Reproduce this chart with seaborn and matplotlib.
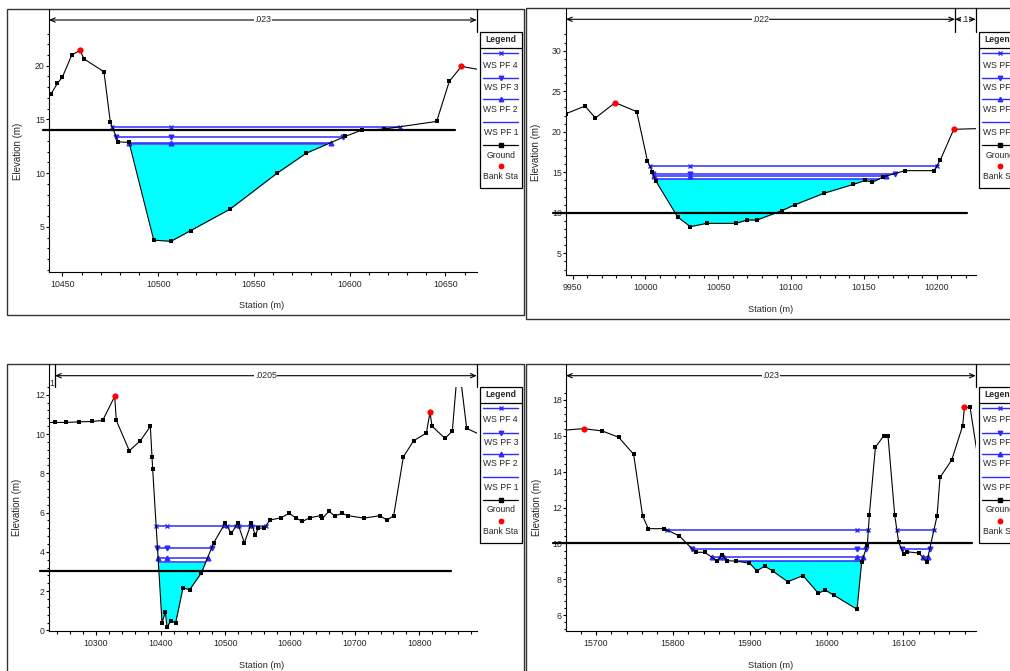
import numpy as np
import pandas as pd
import matplotlib
matplotlib.use("Agg")
import matplotlib.pyplot as plt
import seaborn as sns
from matplotlib.ticker import MultipleLocator, StrMethodFormatter
from matplotlib.patches import Rectangle, FancyArrowPatch
from matplotlib import font_manager

# ---------------- DATA ----------------
# Cross section 1 (top-left)
g1_sta = [10443.9, 10447.4, 10450.0, 10454.9, 10459.1, 10461.4, 10471.7, 10475.0, 10479.1, 10484.8,
          10497.7, 10506.7, 10517.0, 10537.5, 10562.1, 10577.3, 10597.6, 10606.2, 10617.7, 10645.4,
          10652.0, 10658.3, 10675.0]
g1_elev = [17.33, 18.36, 18.95, 21.00, 21.43, 20.62, 19.44, 14.78, 12.92, 12.86,
           3.76, 3.66, 4.66, 6.65, 10.00, 11.86, 13.42, 14.00, 14.10, 14.82,
           18.55, 19.94, 19.40]
bank1_sta = [10459.1, 10658.3]
bank1_elev = [21.43, 19.94]
ws1 = [14.32, 13.33, 12.84, 12.67]          # WS PF 4, 3, 2, 1
level1 = 14.0
level1_sta = [10440.0, 10654.9]
n1_sta = [10443.0, 10666.3]
n1_lab = [".023"]

# Cross section 2 (top-right)
g2_sta = [9945.4, 9958.5, 9965.6, 9979.1, 9994.0, 10001.3, 10004.7, 10007.0, 10022.1, 10030.8,
          10042.0, 10062.0, 10069.7, 10076.6, 10093.5, 10102.7, 10122.4, 10142.8, 10151.0, 10155.8,
          10163.1, 10178.3, 10198.2, 10202.5, 10211.7, 10235.0]
g2_elev = [22.23, 23.17, 21.69, 23.59, 22.48, 16.43, 15.07, 13.96, 9.48, 8.29,
           8.70, 8.70, 9.11, 9.11, 10.26, 11.00, 12.40, 13.51, 14.00, 13.76,
           14.42, 15.20, 15.20, 16.51, 20.30, 20.42]
bank2_sta = [9979.1, 10211.7]
bank2_elev = [23.59, 20.30]
ws2 = [15.73, 14.83, 14.54, 14.21]
level2 = 9.93
level2_sta = [9936.7, 10220.6]
n2_sta = [9945.4, 10212.6, 10226.8]
n2_lab = [".022", ".1"]

# Cross section 3 (bottom-left)
g3_sta = [10220.0, 10236.6, 10253.6, 10273.7, 10293.3, 10310.3, 10328.9, 10331.4, 10351.5, 10368.6,
          10384.0, 10386.6, 10387.6, 10402.1, 10407.2, 10409.8, 10415.5, 10423.2, 10434.5, 10444.8,
          10462.9, 10482.0, 10499.5, 10509.3, 10519.1, 10529.4, 10540.2, 10546.4, 10551.0, 10560.3,
          10569.0, 10585.6, 10598.9, 10609.3, 10619.1, 10630.4, 10647.4, 10650.0, 10660.3, 10669.1,
          10679.9, 10690.2, 10713.9, 10739.2, 10750.0, 10760.3, 10775.3, 10791.2, 10810.8, 10816.5,
          10819.6, 10839.7, 10851.0, 10860.3, 10873.2, 10895.0]
g3_elev = [10.59, 10.59, 10.59, 10.62, 10.64, 10.69, 11.92, 10.69, 9.15, 9.66,
           10.39, 8.84, 8.23, 0.39, 0.95, 0.15, 0.49, 0.39, 2.17, 2.07,
           2.93, 4.46, 5.46, 4.94, 5.46, 4.46, 5.46, 4.85, 5.21, 5.21,
           5.62, 5.73, 5.96, 5.72, 5.55, 5.73, 5.85, 5.70, 6.07, 5.82,
           5.96, 5.84, 5.72, 5.84, 5.62, 5.84, 8.84, 9.66, 10.05, 11.10,
           10.40, 9.78, 10.15, 13.80, 10.29, 9.95]
bank3_sta = [10328.9, 10816.5]
bank3_elev = [11.92, 11.10]
ws3 = [5.33, 4.21, 3.71, 3.46]
level3 = 3.05
level3_sta = [10213.4, 10848.5]
n3_sta = [10236.6, 10888.7]
n3_lab = [".0205"]

# Cross section 4 (bottom-right)
g4_sta = [15655.0, 15683.9, 15708.2, 15729.5, 15749.0, 15760.7, 15768.1, 15788.9, 15808.5, 15829.7,
          15841.4, 15857.5, 15864.0, 15870.9, 15882.2, 15899.6, 15909.5, 15919.5, 15929.9, 15949.5,
          15969.4, 15989.4, 15998.0, 16009.8, 16039.7, 16045.8, 16053.1, 16055.7, 16063.6, 16074.4,
          16080.0, 16088.7, 16093.9, 16100.4, 16104.3, 16120.4, 16130.4, 16143.8, 16147.7, 16162.9,
          16177.2, 16179.4, 16186.8, 16198.0]
g4_elev = [16.30, 16.40, 16.27, 15.92, 14.97, 11.53, 10.82, 10.82, 10.41, 9.50,
           9.50, 9.03, 9.33, 9.03, 9.01, 8.90, 8.46, 8.73, 8.46, 7.86,
           8.20, 7.21, 7.40, 7.10, 6.32, 8.98, 9.91, 11.58, 15.36, 16.00,
           16.00, 11.58, 10.06, 9.42, 9.53, 9.46, 8.94, 11.53, 13.68, 14.65,
           16.57, 17.59, 17.59, 14.47]
bank4_sta = [15683.9, 16179.4]
bank4_elev = [16.40, 17.59]
ws4 = [10.74, 9.68, 9.22, 9.01]
level4 = 10.0
level4_sta = [15644.5, 16189.8]
n4_sta = [15661.0, 16194.1]
n4_lab = [".023"]

ws_names = ["WS PF 4", "WS PF 3", "WS PF 2", "WS PF 1"]

# ---------------- STYLE ----------------
sns.set_theme(style="white")
names = {f.name for f in font_manager.fontManager.ttflist}
main_font = "Liberation Sans Narrow" if "Liberation Sans Narrow" in names else "Liberation Sans"
plt.rcParams["font.family"] = [main_font, "DejaVu Sans"]
narrow = main_font == "Liberation Sans Narrow"

W, H = 1010, 671
fig = plt.figure(figsize=(W / 100, H / 100), dpi=100, facecolor="white")

ov = fig.add_axes([0, 0, 1, 1])
ov.set_xlim(0, W)
ov.set_ylim(H, 0)
ov.axis("off")
ov.patch.set_visible(False)
ov.set_zorder(10)

WS_COLOR = "#2b2bff"
WS_MARK = ["x", "v", "^", None]
TICK_FS = 7.0 if narrow else 6.3
LAB_FS = 7.2 if narrow else 6.6
LEG_FS = 7.0 if narrow else 6.2

panels = [
    dict(sta=g1_sta, elev=g1_elev, bsta=bank1_sta, belev=bank1_elev, ws=ws1, lvl=level1, lvl_sta=level1_sta,
         n_sta=n1_sta, n_lab=n1_lab, xlim=(10443.0, 10666.3), ylim=(0.8, 23.17),
         box=(49, 476.7, 31.7, 272), xt=(50, 10), yt=(5, 1), frame=(7, 9.3, 524.3, 315),
         by=20, leg=(480, 31.7), xlab=(262, 305.7), ylab=(18.3, 151.7)),
    dict(sta=g2_sta, elev=g2_elev, bsta=bank2_sta, belev=bank2_elev, ws=ws2, lvl=level2, lvl_sta=level2_sta,
         n_sta=n2_sta, n_lab=n2_lab, xlim=(9945.4, 10226.8), ylim=(2.33, 32.34),
         box=(566, 975.7, 31.7, 275), xt=(50, 10), yt=(5, 1), frame=(526.3, 8.3, 1020, 319),
         by=19.3, leg=(979.3, 31.7), xlab=(770.7, 310), ylab=(536, 152.5)),
    dict(sta=g3_sta, elev=g3_elev, bsta=bank3_sta, belev=bank3_elev, ws=ws3, lvl=level3, lvl_sta=level3_sta,
         n_sta=n3_sta, n_lab=n3_lab, xlim=(10227.3, 10888.7), ylim=(-0.03, 12.41),
         box=(49, 476.7, 386.7, 631), xt=(100, 20), yt=(2, 0.4), frame=(7, 364.3, 524.3, 690),
         by=375.7, leg=(480, 386.7), xlab=(262, 666), ylab=(17.3, 507.5)),
    dict(sta=g4_sta, elev=g4_elev, bsta=bank4_sta, belev=bank4_elev, ws=ws4, lvl=level4, lvl_sta=level4_sta,
         n_sta=n4_sta, n_lab=n4_lab, xlim=(15661.0, 16194.1), ylim=(5.11, 18.74),
         box=(566, 975.7, 386.7, 631), xt=(100, 20), yt=(2, 0.4), frame=(526.3, 364.3, 1020, 690),
         by=375.7, leg=(979.3, 386.7), xlab=(771, 666), ylab=(536.7, 507)),
]


def wet_segments(sta, elev, level):
    segs, cur = [], None
    for i in range(len(sta)):
        below = elev[i] < level
        if i == 0:
            if below:
                cur = sta[0]
            continue
        prev = elev[i - 1] < level
        if below != prev:
            xc = sta[i - 1] + (level - elev[i - 1]) * (sta[i] - sta[i - 1]) / (elev[i] - elev[i - 1])
            if below:
                cur = xc
            else:
                segs.append((cur, xc))
                cur = None
    if cur is not None:
        segs.append((cur, sta[-1]))
    return segs


def draw_legend(L, T):
    Wl, Hl = 41.7, 156.7
    ov.add_patch(Rectangle((L, T), Wl, Hl, facecolor="white", edgecolor="black", lw=0.9, clip_on=False))
    ov.plot([L, L + Wl], [T + 16, T + 16], color="black", lw=0.9, clip_on=False)
    cx = L + 20.8
    ov.text(cx, T + 8, "Legend", ha="center", va="center", fontsize=LEG_FS, fontweight="bold", clip_on=False)
    rows = [(T + 21.6, "x", T + 33.3), (T + 46, "v", T + 55.6), (T + 67.3, "^", T + 77.3), (T + 90, None, T + 101)]
    for (ly, mk, ty), nm in zip(rows, ws_names):
        ov.plot([L + 2.7, L + 37.7], [ly, ly], color=WS_COLOR, lw=1.0, clip_on=False)
        if mk:
            ov.plot([cx], [ly], marker=mk, ms=3.2, color=WS_COLOR, mew=1.0, clip_on=False)
        ov.text(cx, ty, nm, ha="center", va="center", fontsize=LEG_FS, clip_on=False)
    ov.plot([L + 2.7, L + 37.7], [T + 113, T + 113], color="black", lw=0.9, clip_on=False)
    ov.plot([cx], [T + 113], marker="s", ms=3.4, color="black", clip_on=False)
    ov.text(cx, T + 123.3, "Ground", ha="center", va="center", fontsize=LEG_FS, clip_on=False)
    ov.plot([cx], [T + 134.3], marker="o", ms=4.2, color="red", mew=0, clip_on=False)
    ov.text(cx, T + 145, "Bank Sta", ha="center", va="center", fontsize=LEG_FS, clip_on=False)


for p in panels:
    l, r, t, b = p["box"]
    ax = fig.add_axes([l / W, 1 - b / H, (r - l) / W, (b - t) / H])
    ax.set_facecolor("white")
    sta = np.array(p["sta"])
    elev = np.array(p["elev"])
    x0, x1 = p["xlim"]

    def s2px(s, l=l, r=r, x0=x0, x1=x1):
        return l + (s - x0) / (x1 - x0) * (r - l)

    # water fill below WS PF 1
    pf1 = p["ws"][3]
    ax.fill_between(sta, elev, pf1, where=elev < pf1, interpolate=True, color="#00ffff", lw=0, zorder=1)

    # water surface lines
    thal = sta[np.argmin(elev)]
    for lvl, mk in zip(p["ws"], WS_MARK):
        segs = wet_segments(sta, elev, lvl)
        pts = []
        for a, c in segs:
            ax.plot([a, c], [lvl, lvl], color=WS_COLOR, lw=1.1, zorder=2, solid_capstyle="butt")
            pts += [a, c]
            if a <= thal <= c:
                pts.append(thal)
        if mk and pts:
            ax.plot(pts, [lvl] * len(pts), ls="none", marker=mk, ms=3.4, mew=1.0, color=WS_COLOR, zorder=3)

    # horizontal reference level
    ax.plot(p["lvl_sta"], [p["lvl"]] * 2, color="black", lw=1.6, zorder=4, clip_on=False)

    # ground
    df = pd.DataFrame({"Station": sta, "Elevation": elev})
    sns.lineplot(data=df, x="Station", y="Elevation", sort=False, estimator=None,
                 color="black", lw=0.8, ax=ax, zorder=5)
    bset = set(p["bsta"])
    gm = df[~df["Station"].isin(bset)]
    sns.scatterplot(data=gm, x="Station", y="Elevation", marker="s", s=12, color="black",
                    linewidth=0, ax=ax, zorder=6)
    sns.scatterplot(x=p["bsta"], y=p["belev"], color="red", s=20, linewidth=0, ax=ax, zorder=7)

    ax.set_xlim(p["xlim"])
    ax.set_ylim(p["ylim"])
    ax.xaxis.set_major_locator(MultipleLocator(p["xt"][0]))
    ax.xaxis.set_minor_locator(MultipleLocator(p["xt"][1]))
    ax.yaxis.set_major_locator(MultipleLocator(p["yt"][0]))
    ax.yaxis.set_minor_locator(MultipleLocator(p["yt"][1]))
    ax.xaxis.set_major_formatter(StrMethodFormatter("{x:.0f}"))
    ax.yaxis.set_major_formatter(StrMethodFormatter("{x:.0f}"))
    for sp in ["top", "right"]:
        ax.spines[sp].set_visible(False)
    for sp in ["left", "bottom"]:
        ax.spines[sp].set_color("black")
        ax.spines[sp].set_linewidth(0.8)
    ax.tick_params(which="both", bottom=True, left=True, direction="out", color="black", width=0.8)
    ax.tick_params(axis="x", which="major", length=3.0, labelsize=TICK_FS, pad=2.5)
    ax.tick_params(axis="x", which="minor", length=2.4)
    ax.tick_params(axis="y", which="major", length=2.0, labelsize=TICK_FS, pad=1)
    ax.tick_params(axis="y", which="minor", length=1.5)
    ax.grid(False)

    ax.set_xlabel("Station (m)", fontsize=LAB_FS)
    ax.xaxis.set_label_coords(*p["xlab"], transform=ov.transData)
    ax.xaxis.label.set_va("center")
    ax.set_ylabel("Elevation (m)", fontsize=LAB_FS + 0.4)
    ax.yaxis.set_label_coords(*p["ylab"], transform=ov.transData)
    ax.yaxis.label.set_va("center")
    ax.yaxis.label.set_ha("center")

    # outer frame
    fx0, fy0, fx1, fy1 = p["frame"]
    ov.add_patch(Rectangle((fx0, fy0), fx1 - fx0, fy1 - fy0, fill=False, edgecolor="#333333", lw=1.0, clip_on=False))

    # spine extension up to frame
    ov.plot([l, l], [fy0, t], color="black", lw=0.8)

    # n-value brackets
    by = p["by"]
    npx = [s2px(s) for s in p["n_sta"]]
    for k in range(len(p["n_lab"])):
        a, c = npx[k], npx[k + 1]
        arr = FancyArrowPatch((a, by), (c, by), arrowstyle="<->,head_length=0.5,head_width=0.22",
                              mutation_scale=7, lw=0.8, color="black", shrinkA=0, shrinkB=0)
        ov.add_patch(arr)
        ov.text((a + c) / 2, by, p["n_lab"][k], ha="center", va="center", fontsize=TICK_FS,
                bbox=dict(facecolor="white", edgecolor="none", pad=0.3))
    for xb in npx:
        if abs(xb - l) > 1:
            ov.plot([xb, xb], [fy0, t], color="black", lw=0.9)

    draw_legend(*p["leg"])

# small partial label at the left of the third section's n-value bracket
ov.text(51.5, 384, "1", ha="center", va="center", fontsize=TICK_FS)

fig.savefig("out.png", dpi=100, facecolor="white")
